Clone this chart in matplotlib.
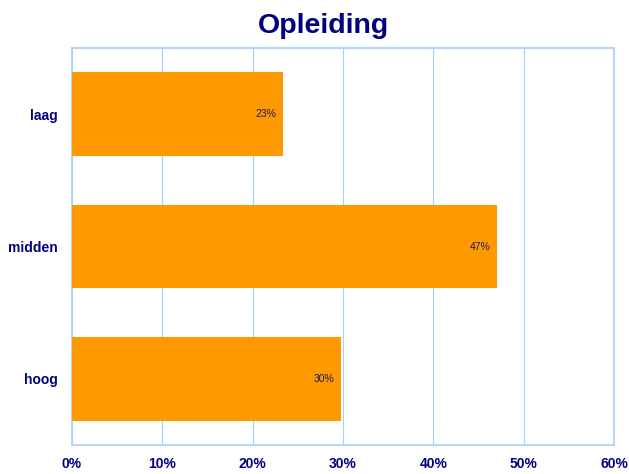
import matplotlib.pyplot as plt

categories = ['laag', 'midden', 'hoog']
values = [23.4, 47.1, 29.8]
labels = ['23%', '47%', '30%']
ticks = [0, 10, 20, 30, 40, 50, 60]

plt.rcParams['font.family'] = ['Liberation Sans', 'DejaVu Sans']
navy = '#000080'
grid_blue = '#A6CFFF'

fig = plt.figure(figsize=(6.29, 4.74), dpi=100)
ax = fig.add_axes([0.1145, 0.0612, 0.8617, 0.8375])

ypos = range(len(categories))
bars = ax.barh(ypos, values, height=0.63, color='#FF9900', zorder=3)

for b, lab in zip(bars, labels):
    ax.annotate(lab, (b.get_width(), b.get_y() + b.get_height() / 2),
                xytext=(-5, 0), textcoords='offset points',
                ha='right', va='center', fontsize=7.5, color='#1a1a60', zorder=4)

ax.set_xlim(0, 60)
ax.set_ylim(2.5, -0.5)
ax.set_yticks(list(ypos))
ax.set_yticklabels(categories, fontsize=10, fontweight='bold', color=navy)
ax.set_xticks(ticks)
ax.set_xticklabels([f'{t}%' for t in ticks], fontsize=10, fontweight='bold', color=navy)
ax.tick_params(axis='both', length=0)
ax.tick_params(axis='x', pad=9)
ax.tick_params(axis='y', pad=10)

ax.grid(axis='x', color=grid_blue, linewidth=0.8, zorder=0)
for s in ax.spines.values():
    s.set_color(grid_blue)
    s.set_linewidth(1.2)

fig.text(0.514, 0.945, 'Opleiding', ha='center', va='center',
         fontsize=20.5, fontweight='bold', color=navy)

fig.savefig('out.png', dpi=100)
